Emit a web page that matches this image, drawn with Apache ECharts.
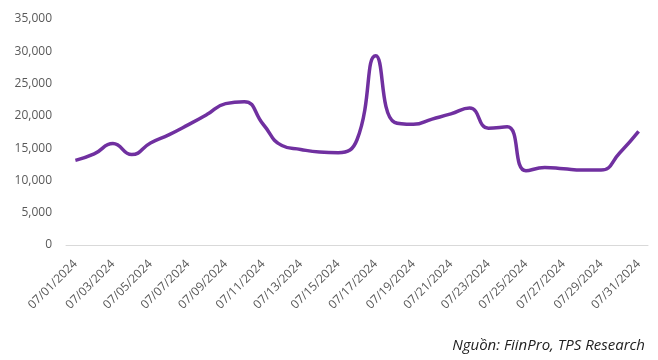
<!DOCTYPE html>
<html><head><meta charset="utf-8">
<script src="https://cdn.jsdelivr.net/npm/echarts@6/dist/echarts.min.js"></script>
<style>html,body{margin:0;padding:0;background:#fff}#c{width:658px;height:360px}</style>
</head><body><div id="c"></div>
<script>
const categories = ["07/01/2024","07/02/2024","07/03/2024","07/04/2024","07/05/2024","07/06/2024","07/07/2024","07/08/2024","07/09/2024","07/10/2024","07/11/2024","07/12/2024","07/13/2024","07/14/2024","07/15/2024","07/16/2024","07/17/2024","07/18/2024","07/19/2024","07/20/2024","07/21/2024","07/22/2024","07/23/2024","07/24/2024","07/25/2024","07/26/2024","07/27/2024","07/28/2024","07/29/2024","07/30/2024","07/31/2024"];
const values = [13100,14100,15700,14000,15800,17100,18600,20200,21900,22200,18700,15400,14800,14400,14300,16300,29300,19000,18700,19500,20300,21200,18100,18300,11500,12000,11800,11600,11600,14300,17600];
const sourceText = "Nguồn: FiinPro, TPS Research";

const chart = echarts.init(document.getElementById('c'), null, {renderer:'canvas'});
chart.setOption({
  animation:false,
  grid:{left:66,right:10,top:19,bottom:115,containLabel:false},
  xAxis:{type:'category',data:categories,boundaryGap:true,
    axisLine:{lineStyle:{color:'#d9d9d9',width:1}},
    axisTick:{interval:1,length:5,lineStyle:{color:'#d9d9d9'}},
    axisLabel:{interval:1,rotate:45,color:'#595959',fontSize:12,fontFamily:'Open Sans',margin:17}},
  yAxis:{type:'value',min:0,max:35000,interval:5000,
    splitLine:{show:false},axisLine:{show:false},axisTick:{show:false},
    axisLabel:{color:'#595959',fontSize:12,fontFamily:'Open Sans',margin:14,
      formatter:v=>v.toLocaleString('en-US')}},
  series:[{type:'line',data:values,smooth:0.5,symbol:'none',
    lineStyle:{color:'#7030A0',width:3.5}}],
  graphic:[{type:'text',right:13,top:338,style:{text:sourceText,fill:'#222',font:'italic 15px "Open Sans"'}}]
});
</script></body></html>
